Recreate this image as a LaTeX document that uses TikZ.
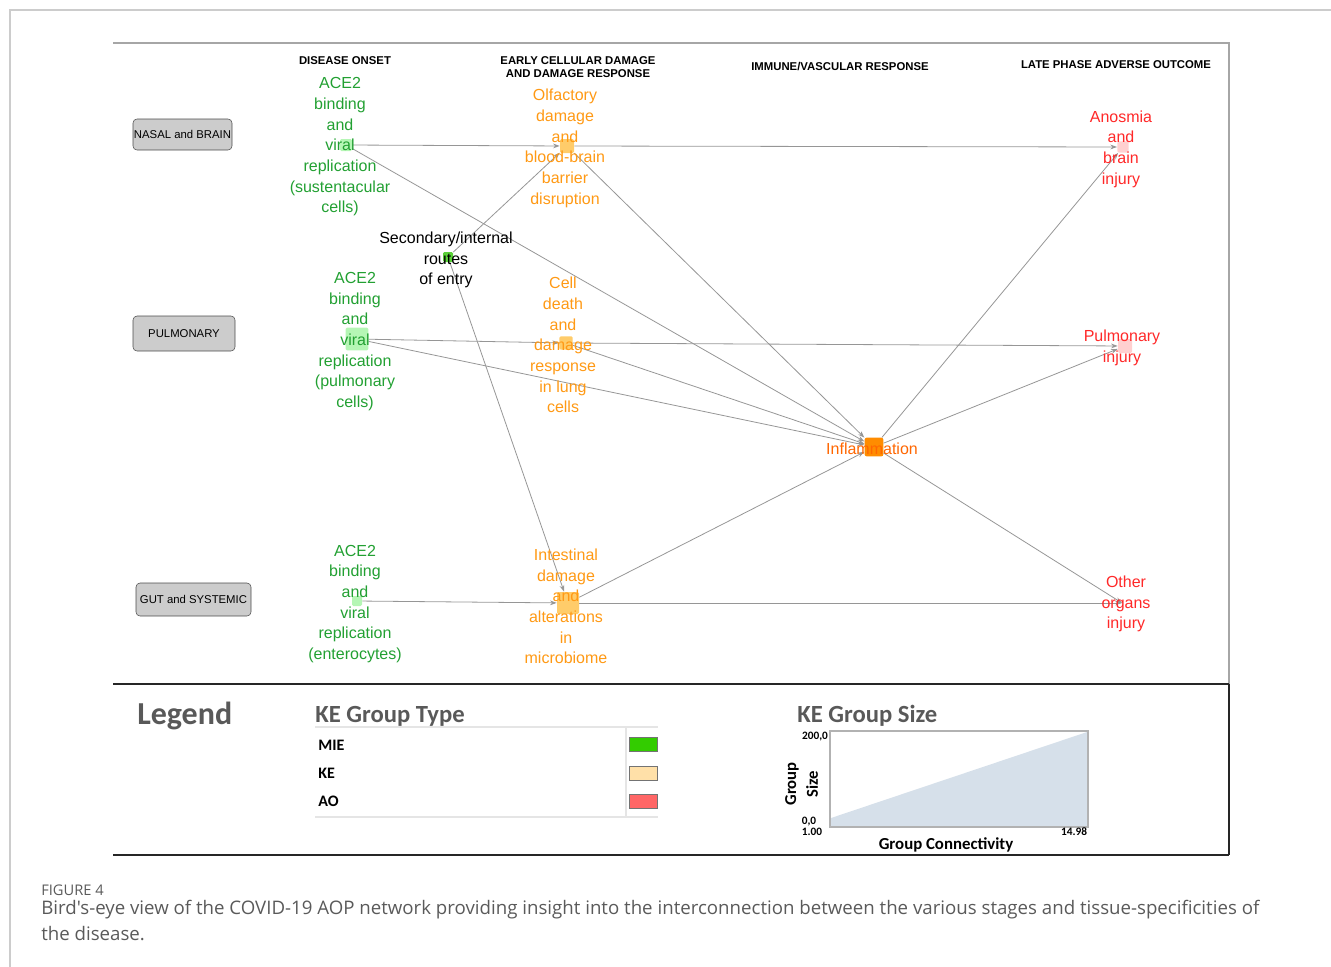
\documentclass[tikz,border=0pt]{standalone}
\usepackage{fontspec}
\setmainfont{Liberation Sans}
\newfontfamily\calfont{Carlito}
\newfontfamily\capfont{Open Sans}
\usetikzlibrary{arrows.meta}
\definecolor{ngreen}{RGB}{34,160,50}
\definecolor{norange}{RGB}{255,153,20}
\definecolor{nred}{RGB}{255,40,40}
\definecolor{ninfl}{RGB}{255,102,0}
\definecolor{sqmie}{RGB}{168,245,168}
\definecolor{sqmied}{RGB}{60,200,20}
\definecolor{sqke}{RGB}{255,195,80}
\definecolor{sqinf}{RGB}{255,140,0}
\definecolor{sqao}{RGB}{255,200,200}
\definecolor{edgec}{RGB}{150,150,150}
\definecolor{legc}{RGB}{89,89,89}
\definecolor{capc}{RGB}{90,90,90}
\definecolor{chartc}{RGB}{214,224,234}
\begin{document}
\begin{tikzpicture}[x=0.75pt,y=-0.75pt,
  sq/.style={rectangle,inner sep=0pt,rounded corners=1pt,fill opacity=0.85,draw=none},
  lbl/.style={align=center,inner sep=0pt,font=\fontsize{12}{15.5}\selectfont},
  hdr/.style={align=center,inner sep=0pt,font=\fontsize{8.5}{10}\selectfont\bfseries},
  tissue/.style={draw=black!70,fill=black!20,rounded corners=3pt,inner sep=0pt,font=\fontsize{8.5}{10}\selectfont},
  link/.style={draw=edgec,line width=0.6pt,-{Stealth[length=5pt,width=3.5pt]}},
  legtxt/.style={inner sep=0pt,font=\calfont\bfseries\fontsize{12}{14}\selectfont},
  swatch/.style={draw=black!55,line width=0.5pt}
]
\useasboundingbox (0,0) rectangle (1331,967);
% outer frame
\draw[black!20,line width=1.5pt] (10,967) -- (10,10) -- (1331,10);
% diagram frame
\draw[black!35,line width=0.8pt] (113,43) -- (1229,43) -- (1229,684);
\draw[black!85,line width=1.4pt] (113,684) -- (1229,684);
\draw[black!85,line width=1.4pt] (1229,684) -- (1229,855);
\draw[black!85,line width=1.8pt] (113,855) -- (1229,855);

% headers
\node[hdr] (h1) at (345,60.5) {DISEASE ONSET};
\node[hdr] (h2) at (578,67) {EARLY CELLULAR DAMAGE\\AND DAMAGE RESPONSE};
\node[hdr] (h3) at (840,66.5) {IMMUNE/VASCULAR RESPONSE};
\node[hdr] (h4) at (1116,64.5) {LATE PHASE ADVERSE OUTCOME};

% tissue boxes
\node[tissue,minimum width=74.25pt,minimum height=23.25pt] (nb) at (182.5,134.5) {NASAL and BRAIN};
\node[tissue,minimum width=76.5pt,minimum height=26.25pt] (pu) at (184,333.5) {PULMONARY};
\node[tissue,minimum width=86.25pt,minimum height=24.75pt] (gs) at (193.5,599.5) {GUT and SYSTEMIC};

% squares
\node[sq,fill=sqmie,minimum size=9pt] (A1) at (346,145) {};
\node[sq,fill=sqke,minimum size=10.5pt] (O) at (567,146) {};
\node[sq,fill=sqmied,minimum size=7.5pt] (S) at (448,257) {};
\node[sq,fill=sqmie,minimum size=17pt] (P1) at (357,339) {};
\node[sq,fill=sqke,minimum size=10pt] (C) at (566,343) {};
\node[sq,fill=sqmie,minimum size=7.5pt] (G1) at (357,601) {};
\node[sq,fill=sqke,minimum size=16.5pt] (I) at (568,603) {};
\node[sq,fill=sqinf,fill opacity=1,rounded corners=1.5pt,minimum size=14pt] (INF) at (874,447) {};
\node[sq,fill=sqao,minimum size=8.5pt] (AN) at (1123,147) {};
\node[sq,fill=sqao,minimum size=10.5pt] (PI) at (1125,346) {};
\coordinate (OO) at (1122,603);

% connectors
\draw[link] (A1) -- (O);
\draw[link] (A1) -- (INF);
\draw[link] (O) -- (AN);
\draw[link] (O) -- (INF);
\draw[link] (S) -- (O);
\draw[link] (S) -- (I);
\draw[link] (P1) -- (C);
\draw[link] (P1) -- (INF);
\draw[link] (C) -- (PI);
\draw[link] (C) -- (INF);
\draw[link] (INF) -- (AN);
\draw[link] (INF) -- (PI);
\draw[link] (INF) -- (OO);
\draw[link] (I) -- (INF);
\draw[link] (G1) -- (I);
\draw[link] (I) -- (OO);

% labels
\node[lbl,text=ngreen] (tA1) at (340,147) {ACE2\\binding\\and\\viral\\replication\\(sustentacular\\cells)};
\node[lbl,text=norange] (tO) at (565,148.5) {Olfactory\\damage\\and\\blood-brain\\barrier\\disruption};
\node[lbl,text=black] (tS) at (446,260) {Secondary/internal\\routes\\of entry};
\node[lbl,text=ngreen] (tP1) at (355,341.5) {ACE2\\binding\\and\\viral\\replication\\(pulmonary\\cells)};
\node[lbl,text=norange] (tC) at (563,345) {Cell\\death\\and\\damage\\response\\in lung\\cells};
\node[lbl,text=ngreen] (tG1) at (355,604) {ACE2\\binding\\and\\viral\\replication\\(enterocytes)};
\node[lbl,text=norange] (tI) at (566,606.5) {Intestinal\\damage\\and\\alterations\\in\\microbiome};
\node[lbl,text=ninfl] (tINF) at (872,449) {Inflammation};
\node[lbl,text=nred] (tAN) at (1121,149) {Anosmia\\and\\brain\\injury};
\node[lbl,text=nred] (tPI) at (1122,348) {Pulmonary\\injury};
\node[lbl,text=nred] (tOO) at (1126,604) {Other\\organs\\injury};

% legend
\node[anchor=west,inner sep=0pt,text=legc,font=\calfont\bfseries\fontsize{24}{28}\selectfont] (leg) at (137,716) {Legend};
\node[anchor=west,inner sep=0pt,text=legc,font=\calfont\bfseries\fontsize{18.5}{22}\selectfont] (ket) at (315,716) {KE Group Type};
\draw[black!10,line width=0.8pt] (315,727) -- (658,727);
\draw[black!10,line width=0.8pt] (315,817) -- (658,817);
\draw[black!10,line width=0.8pt] (626,727) -- (626,818);
\node[legtxt,anchor=west] (mie) at (318,745) {MIE};
\node[legtxt,anchor=west] (ke) at (318,773) {KE};
\node[legtxt,anchor=west] (ao) at (318,801) {AO};
\draw[swatch,fill={rgb,255:red,51;green,204;blue,0}] (629,737) rectangle (657,751);
\draw[swatch,fill={rgb,255:red,255;green,224;blue,168}] (629,766) rectangle (657,780);
\draw[swatch,fill={rgb,255:red,255;green,102;blue,102}] (629,794) rectangle (657,808);

\node[anchor=west,inner sep=0pt,text=legc,font=\calfont\bfseries\fontsize{18.5}{22}\selectfont] (kes) at (797,716) {KE Group Size};
\fill[chartc] (831,818) -- (1087,732) -- (1087,826) -- (831,826) -- cycle;
\draw[black!30,line width=0.8pt] (830,731) rectangle (1088,827);
\node[inner sep=0pt,font=\calfont\bfseries\fontsize{8.5}{10}\selectfont] (y1) at (815,737) {200,0};
\node[inner sep=0pt,font=\calfont\bfseries\fontsize{8.5}{10}\selectfont] (y0) at (809,822) {0,0};
\node[inner sep=0pt,font=\calfont\bfseries\fontsize{8.5}{10}\selectfont] (x0) at (812,832) {1.00};
\node[inner sep=0pt,font=\calfont\bfseries\fontsize{8.5}{10}\selectfont] (x1) at (1074,832) {14.98};
\node[inner sep=0pt,rotate=90,font=\calfont\bfseries\fontsize{12.5}{14}\selectfont] (gy1) at (792,784) {Group};
\node[inner sep=0pt,rotate=90,font=\calfont\bfseries\fontsize{12.5}{14}\selectfont] (gy2) at (812,784) {Size};
\node[inner sep=0pt,font=\calfont\bfseries\fontsize{12.6}{14}\selectfont] (gc) at (946,845) {Group Connectivity};

% caption
\node[anchor=west,inner sep=0pt,text=capc,font=\capfont\fontsize{11}{13}\selectfont] (fig) at (41,890.5) {FIGURE 4};
\node[anchor=west,inner sep=0pt,text=capc,font=\capfont\fontsize{14}{16}\selectfont] (cap1) at (41,910) {Bird's-eye view of the COVID-19 AOP network providing insight into the interconnection between the various stages and tissue-specificities of};
\node[anchor=west,inner sep=0pt,text=capc,font=\capfont\fontsize{14}{16}\selectfont] (cap2) at (41,934) {the disease.};
\end{tikzpicture}
\end{document}
